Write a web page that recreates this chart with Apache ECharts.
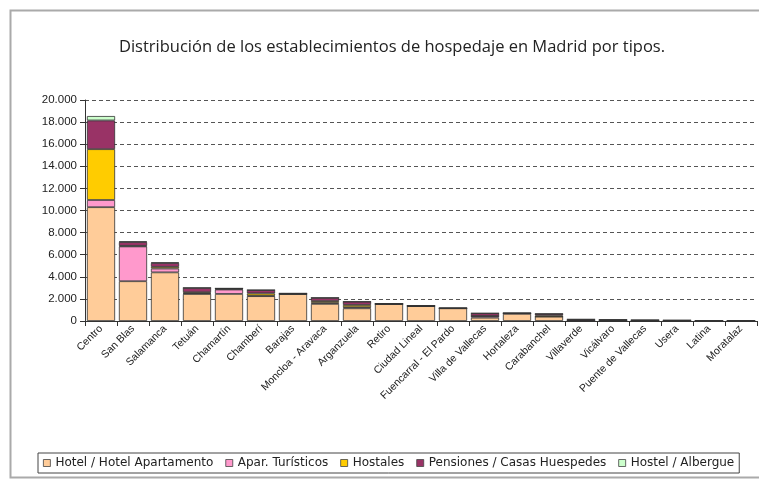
<!DOCTYPE html>
<html><head><meta charset="utf-8">
<script src="https://cdn.jsdelivr.net/npm/echarts@6/dist/echarts.min.js"></script>
<style>html,body{margin:0;padding:0;background:#fff}#c{width:759px;height:481px}</style>
</head><body><div id="c"></div>
<script>
const titleText = 'Distribución de los establecimientos de hospedaje en Madrid por tipos.';
const categories = ['Centro','San Blas','Salamanca','Tetuán','Chamartín','Chamberí','Barajas','Moncloa - Aravaca','Arganzuela','Retiro','Ciudad Lineal','Fuencarral - El Pardo','Villa de Vallecas','Hortaleza','Carabanchel','Villaverde','Vicálvaro','Puente de Vallecas','Usera','Latina','Moratalaz'];
const seriesNames = ['Hotel / Hotel Apartamento','Apar. Turísticos','Hostales','Pensiones / Casas Huespedes','Hostel / Albergue'];
const hotel      = [10300,3600,4400,2450,2450,2250,2450,1550,1150,1550,1350,1150,300,650,400,50,80,60,20,20,20];
const apartTur   = [650,3150,350,50,400,50,0,100,100,0,0,0,150,50,0,0,0,0,0,0,0];
const hostales   = [4600,50,150,100,50,200,0,150,200,0,0,0,0,0,100,0,0,0,0,0,0];
const pensiones  = [2600,350,350,400,50,300,50,300,300,0,50,0,250,0,150,100,0,0,50,0,0];
const hostel     = [400,50,50,0,0,0,0,0,0,0,0,0,0,0,0,0,0,0,0,0,0];
const yTicks = [0,2000,4000,6000,8000,10000,12000,14000,16000,18000,20000];
const colors = ['#FFCC99','#FF99CC','#FFCC00','#993366','#CCFFCC'];
const values = [hotel, apartTur, hostales, pensiones, hostel];

const fmt = v => String(v).replace(/\B(?=(\d{3})+(?!\d))/g, '.');
const chart = echarts.init(document.getElementById('c'));
chart.setOption({
  animation:false,
  backgroundColor:'#fff',
  title:{text:titleText,left:387,top:34,textAlign:'center',textStyle:{fontFamily:'Open Sans',fontSize:16.5,fontWeight:'normal',color:'#222'}},
  graphic:[{type:'rect',shape:{x:10.5,y:10.5,width:780,height:467},style:{fill:'none',stroke:'#aaa',lineWidth:2},silent:true}],
  legend:{bottom:8,left:38,itemWidth:7,itemHeight:7,itemGap:12,borderColor:'#444',borderWidth:1,padding:[4,5],
    icon:'rect',textStyle:{fontFamily:'DejaVu Sans',fontSize:12,color:'#222'},
    data:seriesNames.map((n,i)=>({name:n,itemStyle:{borderColor:'#444',borderWidth:0.8}}))},
  grid:{left:85,right:2,top:100,bottom:160,containLabel:false},
  xAxis:{type:'category',data:categories,
    axisLine:{lineStyle:{color:'#333'}},axisTick:{show:true,lineStyle:{color:'#333'}},
    axisLabel:{rotate:45,interval:0,fontFamily:'Liberation Sans',fontSize:10.5,color:'#222',margin:6}},
  yAxis:{type:'value',min:0,max:20000,interval:2000,
    axisLine:{show:true,lineStyle:{color:'#333'}},axisTick:{show:true,lineStyle:{color:'#333'}},
    axisLabel:{formatter:v=>yTicks.includes(v)?fmt(v):'',fontFamily:'Liberation Sans',fontSize:11.5,color:'#222',margin:8},
    splitLine:{show:true,lineStyle:{type:[4,3],color:'#555',width:1}}},
  series:seriesNames.map((n,i)=>({name:n,type:'bar',stack:'t',data:values[i],barWidth:'88%',
    itemStyle:{color:colors[i],borderColor:'#333',borderWidth:0.8}}))
});
</script></body></html>
